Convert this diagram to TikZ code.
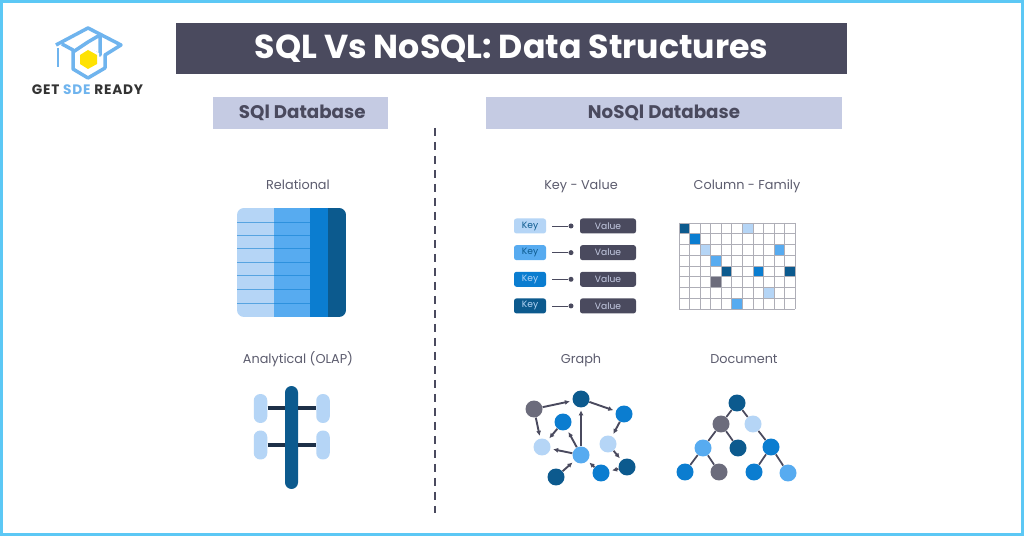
\documentclass[tikz,border=0pt]{standalone}
\usepackage{fontspec}
\setmainfont{Poppins}
\usetikzlibrary{arrows.meta, positioning}
\definecolor{slate}{HTML}{4A4A5E}
\definecolor{band}{HTML}{C5CBE3}
\definecolor{frame}{HTML}{5CC8F5}
\definecolor{pale}{HTML}{B5D5F6}
\definecolor{sky}{HTML}{57ABF0}
\definecolor{ocean}{HTML}{0B7DD0}
\definecolor{deep}{HTML}{0C5A8E}
\definecolor{stone}{HTML}{6C6C7C}
\definecolor{navy}{HTML}{1D3048}
\definecolor{logoblue}{HTML}{6FB4EE}
\tikzstyle{header} = [rectangle, fill=band, text=slate, font=\bfseries\fontsize{10.4}{12}\selectfont, minimum height=6.4mm]
\tikzstyle{caption} = [anchor=base, text=slate!90, font=\fontsize{7.3}{8}\selectfont, inner sep=0pt]
\tikzstyle{keybox} = [rectangle, rounded corners=0.5mm, minimum width=6.4mm, minimum height=3mm, inner sep=0pt, font=\fontsize{5.2}{6}\selectfont]
\tikzstyle{valuebox} = [rectangle, rounded corners=0.5mm, fill=slate, text=band, minimum width=11.2mm, minimum height=3mm, inner sep=0pt, font=\fontsize{5.2}{6}\selectfont]
\tikzstyle{dot} = [circle, fill=slate, minimum size=1mm, inner sep=0pt]
\tikzstyle{pill} = [rectangle, rounded corners=1.3mm, fill=pale, minimum width=2.7mm, minimum height=5.8mm, inner sep=0pt]
\tikzstyle{vertex} = [circle, minimum size=3.4mm, inner sep=0pt]
\tikzstyle{link} = [draw=slate, line width=0.38mm, -{Latex[length=1mm,width=1mm]}, shorten >=0.5mm]
\tikzstyle{branch} = [draw=slate, line width=0.35mm]
\begin{document}
\begin{tikzpicture}[x=0.02cm, y=-0.02cm, node distance=0.533cm]
\useasboundingbox (0,0) rectangle (1024,536);
\fill[white] (0,0) rectangle (1024,536);
\draw[frame, line width=0.7mm] (1.5,1.5) rectangle (1022.5,534.5);
% logo
\draw[logoblue, line width=0.7mm, line join=round] (56,45) -- (88,28) -- (121,45) -- (105,55) -- (105,68) -- (88,78) -- (73,69) -- (73,50) -- (62,44);
\draw[logoblue, line width=0.7mm, line join=round] (73,52) -- (88,42) -- (100,35) -- (100,55) -- (88,50);
\draw[logoblue, line width=0.5mm] (58,48) -- (58,67);
\fill[white] (88,47) -- (99,53) -- (99,66) -- (88,72) -- (78,66) -- (78,53) -- cycle;
\fill[yellow!85!orange] (88,50) -- (97,55) -- (97,64) -- (88,69) -- (80,64) -- (80,55) -- cycle;
\node (logotext) at (87.5,90) [inner sep=0pt, font=\bfseries\fontsize{7.8}{9}\selectfont\addfontfeatures{LetterSpace=6}, text=black!80] {GET \textcolor{logoblue}{SDE} READY};
% headers
\node (title) at (511.5,48.5) [rectangle, fill=slate, text=white, minimum width=13.42cm, minimum height=1.02cm, font=\bfseries\fontsize{18.9}{22}\selectfont] {SQL Vs NoSQL: Data Structures};
\node (sqlhead) at (300.5,113) [header, minimum width=3.5cm] {\kern0.7mm SQl Database};
\node (nosqlhead) at (664,113) [header, minimum width=7.12cm] {NoSQl Database};
\draw[slate, line width=0.3mm, dash pattern=on 1.6mm off 1.2mm] (435,128) -- (435,513);
% captions
\node (relcap) at (298,189.5) [caption] {Relational};
\node (olapcap) at (298,363.5) [caption] {Analytical (OLAP)};
\node (kvcap) at (581,189.5) [caption] {Key - Value};
\node (colcap) at (747,189.5) [caption] {Column - Family};
\node (graphcap) at (581,363.5) [caption] {Graph};
\node (doccap) at (744,363.5) [caption] {Document};
% relational table
\begin{scope}
\clip[rounded corners=1.4mm] (237,208) rectangle (346,317);
\fill[pale] (237,208) rectangle (274,317);
\fill[sky] (274,208) rectangle (310,317);
\fill[ocean] (310,208) rectangle (328,317);
\fill[deep] (328,208) rectangle (346,317);
\foreach \y in {222,235,248,262,275,289,303}
  \draw[ocean, opacity=0.55, line width=0.12mm] (237,\y) -- (310,\y);
\end{scope}
% olap
\node (spine) at (291.5,437.5) [rectangle, rounded corners=1.3mm, fill=deep, minimum width=2.6mm, minimum height=2.06cm, inner sep=0pt] {};
\node (pill1) at (260.5,408.5) [pill] {};
\node (pill2) at (323,408.5) [pill] {};
\node (pill3) at (260.5,445) [pill] {};
\node (pill4) at (323,445) [pill] {};
\draw[navy, line width=0.8mm] (pill1.east) -- (pill1 -| spine.west);
\draw[navy, line width=0.8mm] (pill2.west) -- (pill2 -| spine.east);
\draw[navy, line width=0.8mm] (pill3.east) -- (pill3 -| spine.west);
\draw[navy, line width=0.8mm] (pill4.west) -- (pill4 -| spine.east);
% key value
\node (key1) at (530,226) [keybox, fill=pale, text=deep] {Key};
\node (key2) [keybox, fill=sky, text=deep, below of=key1] {Key};
\node (key3) [keybox, fill=ocean, text=pale, below of=key2] {Key};
\node (key4) [keybox, fill=deep, text=pale, below of=key3] {Key};
\node (value1) at (608,226) [valuebox] {Value};
\node (value2) [valuebox, below of=value1] {Value};
\node (value3) [valuebox, below of=value2] {Value};
\node (value4) [valuebox, below of=value3] {Value};
\foreach \n in {1,2,3,4} {
  \node (dot\n) at (571,0 |- key\n) [dot] {};
  \draw[slate, line width=0.15mm, shorten <=1.2mm] (key\n) -- (dot\n);
}
% column family
\foreach \c/\r/\tone in {0/0/deep,6/0/pale,1/1/ocean,2/2/pale,9/2/sky,3/3/sky,4/4/deep,7/4/ocean,10/4/deep,3/5/stone,8/6/pale,5/7/sky}
  \fill[\tone] ({679+\c*10.55},{223+\r*10.75}) rectangle ++(10.55,10.75);
\foreach \c in {0,...,11}
  \draw[stone!55, line width=0.12mm] ({679+\c*10.55},223) -- ({679+\c*10.55},309);
\foreach \r in {0,...,8}
  \draw[stone!55, line width=0.12mm] (679,{223+\r*10.75}) -- (795,{223+\r*10.75});
% graph
\node (g1) at (534,409) [vertex, fill=stone] {};
\node (g2) at (581,399) [vertex, fill=deep] {};
\node (g3) at (624,414) [vertex, fill=ocean] {};
\node (g4) at (563,422) [vertex, fill=ocean] {};
\node (g5) at (542,447) [vertex, fill=pale] {};
\node (g6) at (608,444) [vertex, fill=pale] {};
\node (g7) at (581,455) [vertex, fill=sky] {};
\node (g8) at (627,467) [vertex, fill=deep] {};
\node (g9) at (601,473) [vertex, fill=ocean] {};
\node (g10) at (556,477) [vertex, fill=deep] {};
\draw[link] (g1) -- (g2);
\draw[link] (g2) -- (g3);
\draw[link] (g1) -- (g5);
\draw[link] (g3) -- (g6);
\draw[link] (g6) -- (g8);
\draw[link] (g8) -- (g9);
\draw[link] (g4) -- (g5);
\draw[link] (g7) -- (g4);
\draw[link] (g7) -- (g2);
\draw[link] (g7) -- (g5);
\draw[link] (g9) -- (g7);
\draw[link] (g10) -- (g7);
% document tree
\node (d1) at (737,403) [vertex, fill=deep] {};
\node (d2) at (721,424) [vertex, fill=stone] {};
\node (d3) at (753,424) [vertex, fill=pale] {};
\node (d4) at (703,448) [vertex, fill=sky] {};
\node (d5) at (738,448) [vertex, fill=deep] {};
\node (d6) at (771,447) [vertex, fill=ocean] {};
\node (d7) at (685,472) [vertex, fill=ocean] {};
\node (d8) at (719,472) [vertex, fill=stone] {};
\node (d9) at (754,472) [vertex, fill=ocean] {};
\node (d10) at (788,473) [vertex, fill=sky] {};
\draw[branch] (d1) -- (d2);
\draw[branch] (d1) -- (d3);
\draw[branch] (d2) -- (d4);
\draw[branch] (d2) -- (d5);
\draw[branch] (d3) -- (d6);
\draw[branch] (d4) -- (d7);
\draw[branch] (d4) -- (d8);
\draw[branch] (d6) -- (d9);
\draw[branch] (d6) -- (d10);
\end{tikzpicture}
\end{document}
